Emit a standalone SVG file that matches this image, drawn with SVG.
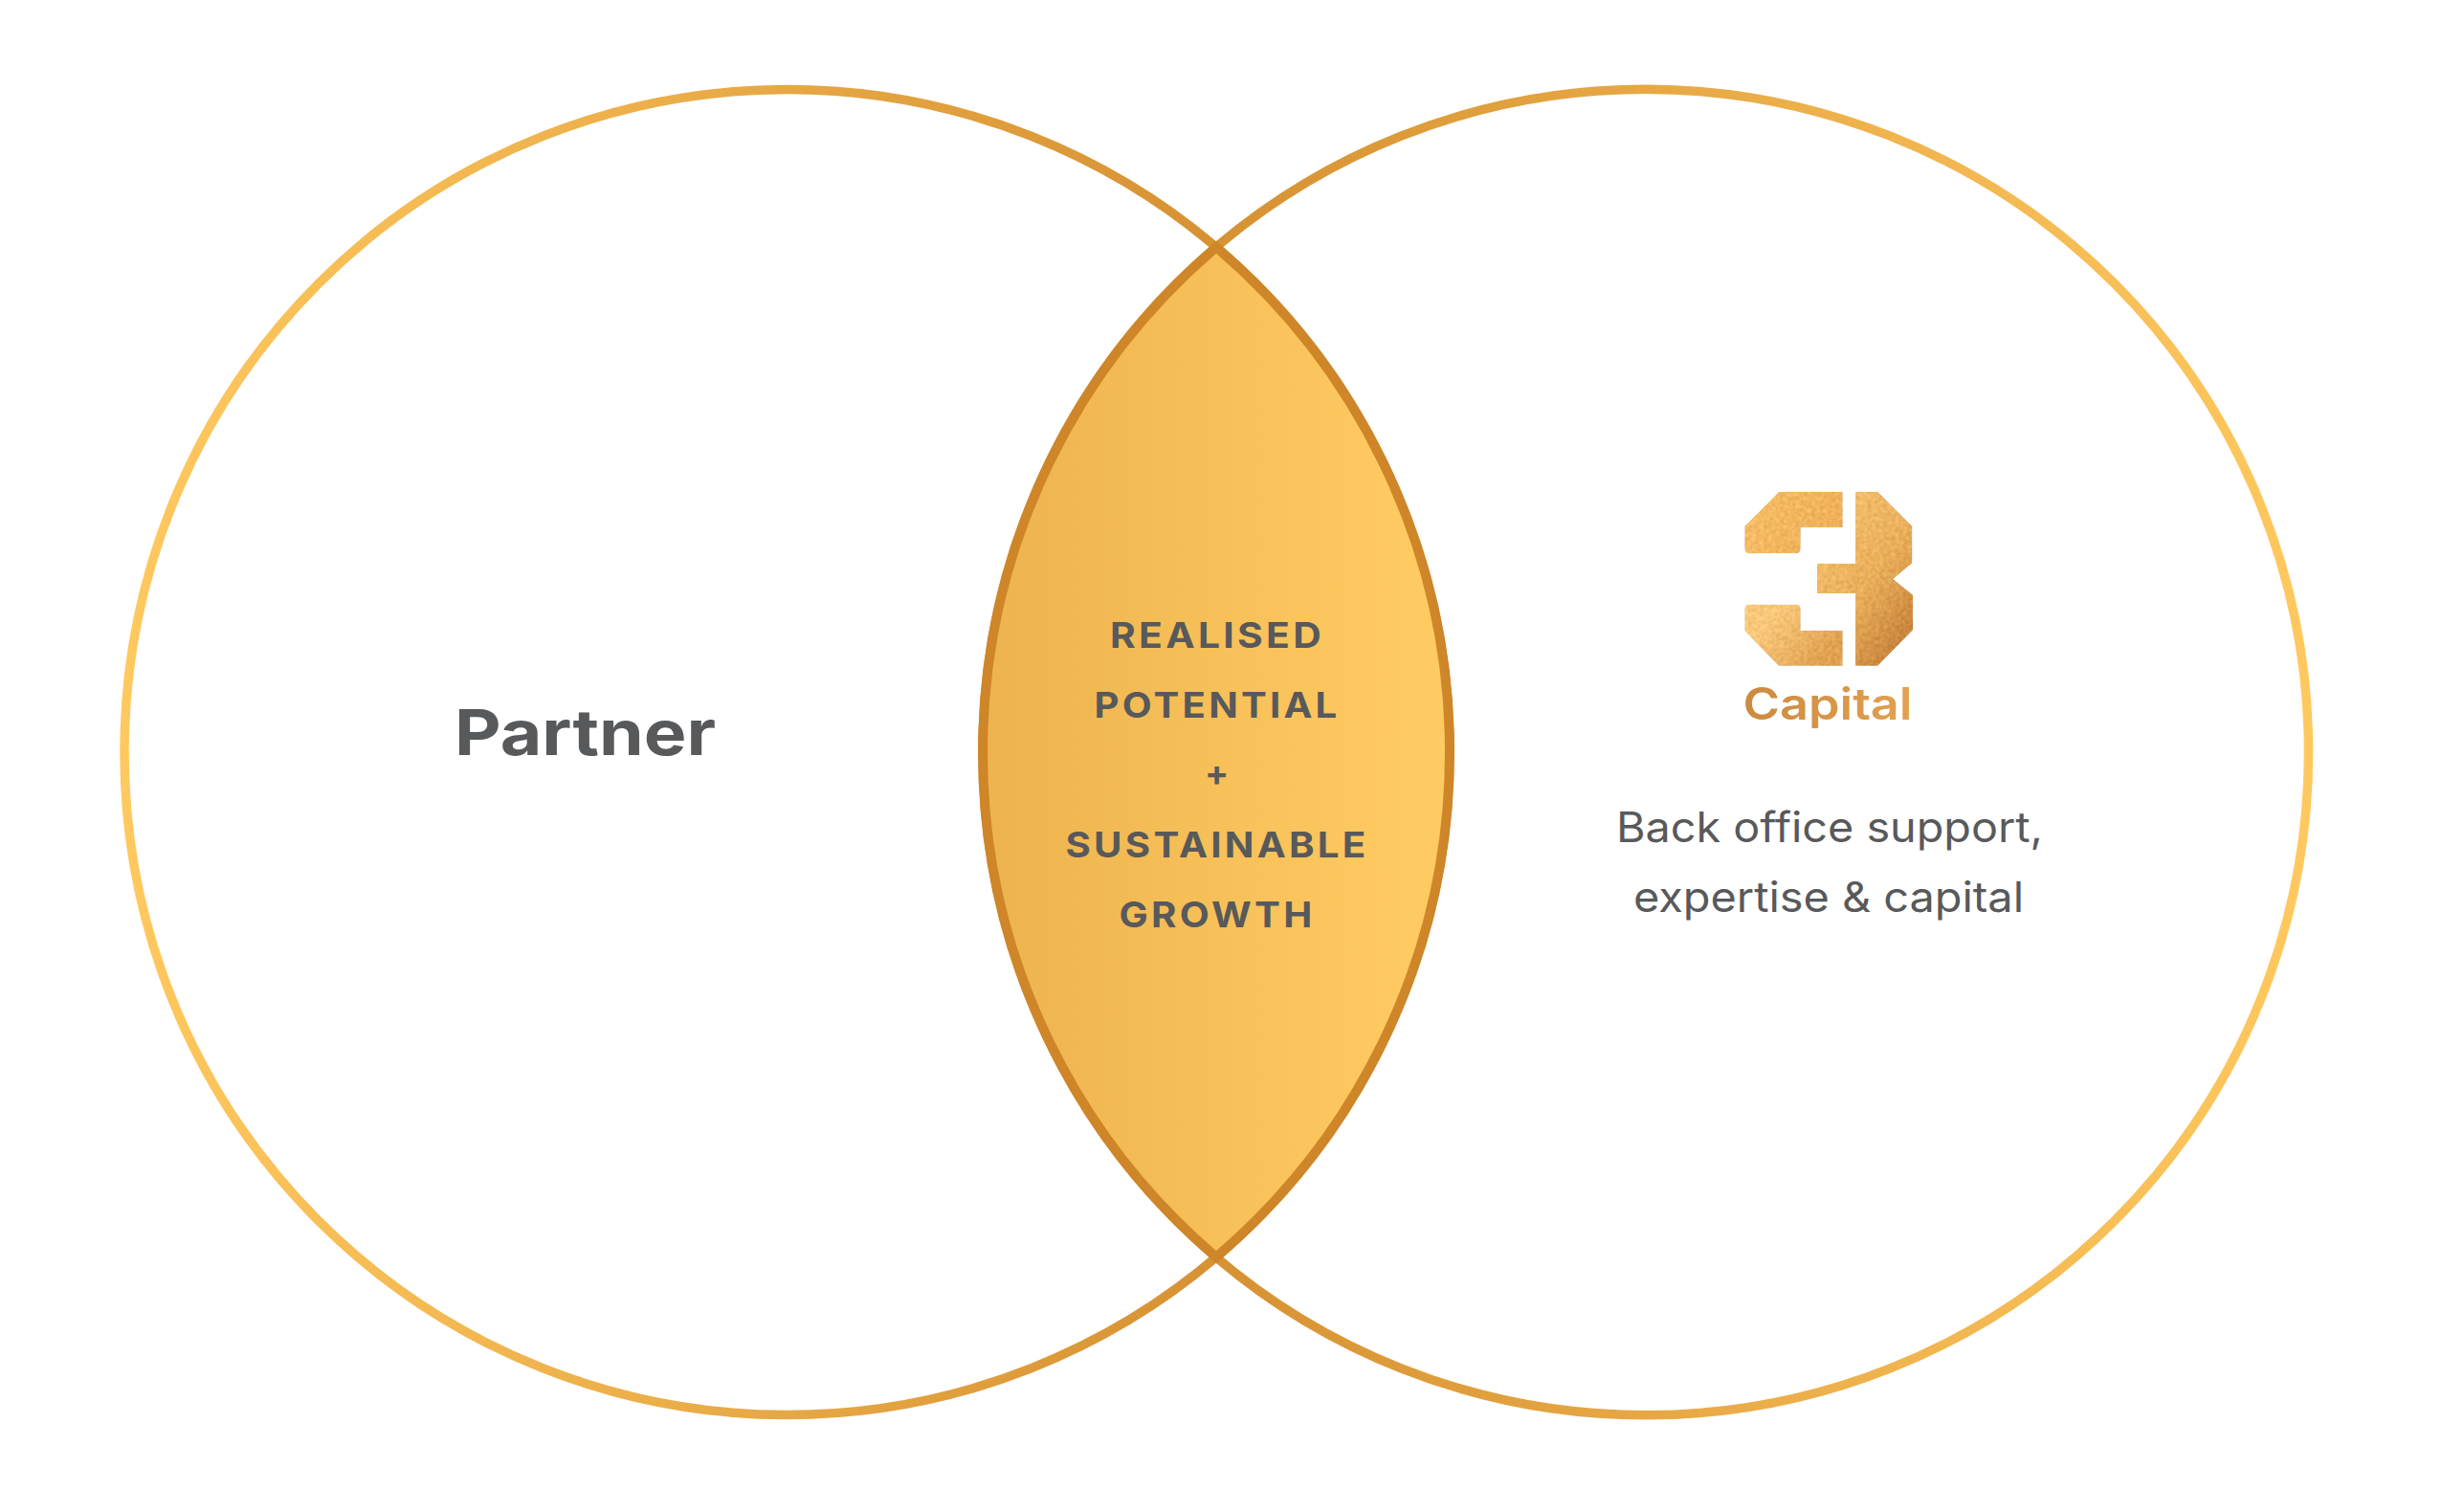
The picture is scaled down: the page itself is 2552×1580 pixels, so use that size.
<svg xmlns="http://www.w3.org/2000/svg" width="2552" height="1580" viewBox="0 0 2552 1580">
<style>
text{font-family:"Inter","Open Sans","Liberation Sans",sans-serif;fill:#58595b;text-anchor:middle}
.ring{fill:none;stroke-width:9.500}
.mid{font-size:37px;font-weight:700;letter-spacing:3px}
.sub{font-size:44px;font-weight:400}
</style>
<defs>
<linearGradient id="ringL" x1="0" x2="1" y1="0" y2="0"><stop offset="0" stop-color="#ffc95f"/><stop offset="1" stop-color="#ce8629"/></linearGradient>
<linearGradient id="ringR" x1="0" x2="1" y1="0" y2="0"><stop offset="0" stop-color="#ce8629"/><stop offset="1" stop-color="#ffc95f"/></linearGradient>
<linearGradient id="lens" x1="0" x2="1" y1="0" y2="0"><stop offset="0" stop-color="#edb34e"/><stop offset="0.9" stop-color="#ffca61"/></linearGradient>
<linearGradient id="g1" x1="0" x2="1" y1="0" y2="0.3"><stop offset="0" stop-color="#f7be68"/><stop offset="1" stop-color="#efb05a"/></linearGradient>
<linearGradient id="g2" x1="0" x2="0.75" y1="0" y2="1"><stop offset="0" stop-color="#f8c574"/><stop offset="0.6" stop-color="#e9ae5a"/><stop offset="1" stop-color="#c6833b"/></linearGradient>
<linearGradient id="g3" x1="0" x2="1" y1="0" y2="0.5"><stop offset="0.3" stop-color="#f9c87b"/><stop offset="1" stop-color="#e0a150"/></linearGradient>
<linearGradient id="g4" x1="0" x2="1" y1="0" y2="0"><stop offset="0" stop-color="#cb8a3e"/><stop offset="1" stop-color="#e2a251"/></linearGradient>
<filter id="foil" x="0" y="0" width="1" height="1" color-interpolation-filters="sRGB">
<feTurbulence type="fractalNoise" baseFrequency="0.08" numOctaves="2" seed="4"/>
<feColorMatrix type="matrix" values="1 0 0 0 0 1 0 0 0 0 1 0 0 0 0 0 0 0 0 1"/>
<feComposite in2="SourceGraphic" operator="arithmetic" k1="0" k2="0.16" k3="1" k4="-0.08"/>
<feComposite in2="SourceAlpha" operator="in"/>
</filter>
</defs>
<g id="partner">
<circle class="ring" cx="822.500" cy="786" r="692.500" stroke="url(#ringL)"/>
<text x="611.500" y="789" font-size="66" font-weight="700" textLength="273" lengthAdjust="spacingAndGlyphs">Partner</text>
</g>
<g id="capital">
<circle class="ring" cx="1719.750" cy="786" r="692.750" stroke="url(#ringR)"/>
<g id="logo" transform="translate(1760 490) scale(.33333)" filter="url(#foil)">
<path fill="url(#g1)" d="M297 72H497V184H365V250Q365 265 350 265H205Q190 265 190 250V180Z"/>
<path fill="url(#g2)" d="M537 72H607L715 180V295L655 345L717 395V505L607 617H537V390H417V297H537Z"/>
<path fill="url(#g3)" d="M205 425H350Q365 425 365 440V507H497V617H297L190 508V440Q190 425 205 425Z"/>
</g>
<text x="1910" y="752" font-size="46" font-weight="600" style="fill:url(#g4)" textLength="177" lengthAdjust="spacingAndGlyphs">Capital</text>
<text class="sub" x="1912" y="880" textLength="446" lengthAdjust="spacingAndGlyphs">Back office support,</text>
<text class="sub" x="1911" y="953" textLength="408" lengthAdjust="spacingAndGlyphs">expertise &amp; capital</text>
</g>
<g id="overlap">
<path d="M1271 258.400A692.500 692.500 0 0 1 1271 1313.600A692.500 692.500 0 0 1 1271 258.400Z" fill="url(#lens)" stroke="#ce8629" stroke-width="10"/>
<text class="mid" x="1272" y="677" textLength="224" lengthAdjust="spacingAndGlyphs">REALISED</text>
<text class="mid" x="1272" y="750" textLength="257" lengthAdjust="spacingAndGlyphs">POTENTIAL</text>
<text class="mid" x="1271.500" y="821" style="letter-spacing:0">+</text>
<text class="mid" x="1272" y="896" textLength="317" lengthAdjust="spacingAndGlyphs">SUSTAINABLE</text>
<text class="mid" x="1272" y="969" textLength="205" lengthAdjust="spacingAndGlyphs">GROWTH</text>
</g>
</svg>
